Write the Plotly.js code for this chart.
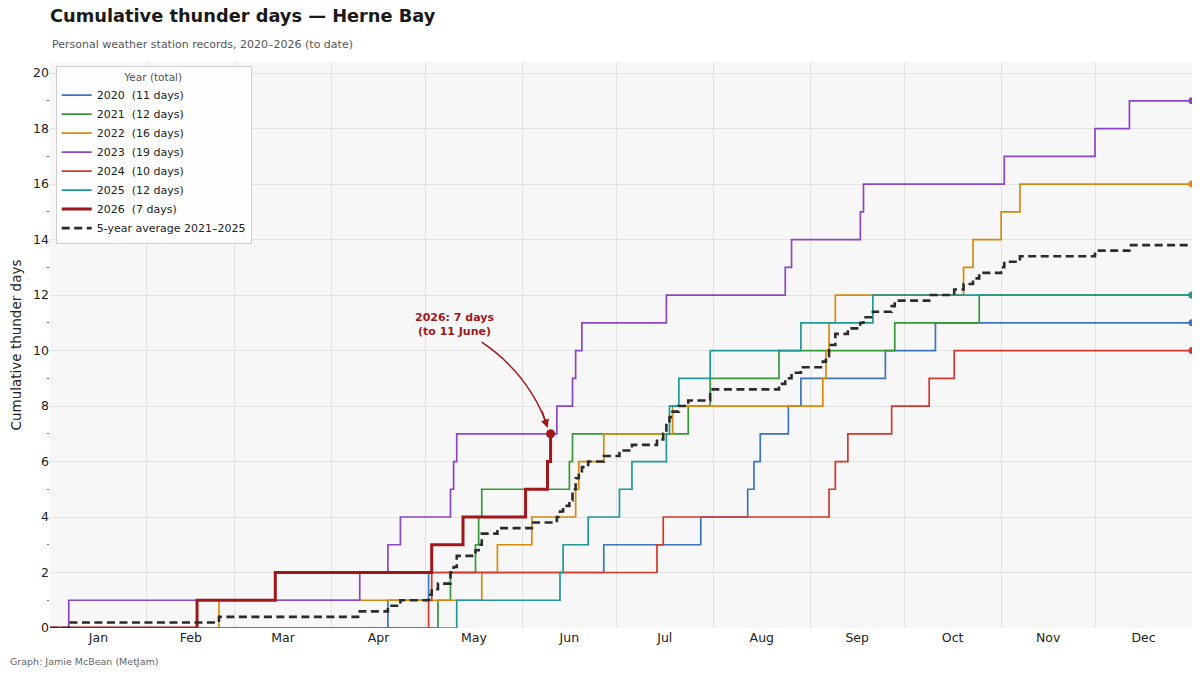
<!DOCTYPE html>
<html>
<head>
<meta charset="utf-8">
<script src="https://cdn.plot.ly/plotly-3.0.1.min.js"></script>
<style>
  html, body { margin: 0; padding: 0; background: #ffffff; }
  #chart { width: 1200px; height: 674px; }
</style>
</head>
<body>
<div id="chart"></div>
<script>
// ---- Data (event dates as MM-DD, cumulative thunder-day counts) ----
const axisYear = '2021';            // common calendar year used for the day-of-year axis
const nextYear = '2022';

const years  = ['2020', '2021', '2022', '2023', '2024', '2025', '2026'];
const totals = [11, 12, 16, 19, 10, 12, 7];

const dates2020  = ['04-19','05-02','06-27','07-28','08-12','08-14','08-16','08-25','08-29','09-25','10-11'];
const counts2020 = [1,2,3,4,5,6,7,8,9,10,11];

const dates2021  = ['05-05','05-09','05-17','05-18','05-19','06-16','06-17','07-24','07-31','08-22','09-28','10-25'];
const counts2021 = [1,2,3,4,5,6,7,8,9,10,11,12];

const dates2022  = ['02-24','05-19','05-24','06-04','06-18','06-19','06-27','07-19','09-05','09-06','09-07','09-09','10-20','10-23','11-01','11-07'];
const counts2022 = [1,2,3,4,5,6,7,8,9,10,11,12,13,14,15,16];

const dates2023  = ['01-07','04-10','04-19','04-23','05-09','05-10','05-11','06-12','06-17','06-18','06-20','07-17','08-24','08-26','09-17','09-18','11-02','12-01','12-12'];
const counts2023 = [1,2,3,4,5,6,7,8,9,10,11,12,13,14,15,16,17,18,19];

const dates2024  = ['05-02','05-03','07-14','07-16','09-07','09-09','09-13','09-27','10-09','10-17'];
const counts2024 = [1,2,3,4,5,6,7,8,9,10];

const dates2025  = ['05-11','06-13','06-14','06-22','07-02','07-06','07-17','07-18','07-21','07-31','08-29','09-21'];
const counts2025 = [1,2,3,4,5,6,7,8,9,10,11,12];

const dates2026  = ['02-17','03-14','05-03','05-13','06-02','06-09','06-10'];
const counts2026 = [1,2,3,4,5,6,7];

// 5-year average 2021–2025
const avgDates  = ['01-07','02-24','04-10','04-19','04-23','05-02','05-03','05-05','05-09','05-10','05-11','05-17','05-18','05-19','05-24','06-04','06-12','06-13','06-14','06-16','06-17','06-18','06-19','06-20','06-22','06-27','07-02','07-06','07-14','07-16','07-17','07-18','07-19','07-21','07-24','07-31','08-22','08-24','08-26','08-29','09-05','09-06','09-07','09-09','09-13','09-17','09-18','09-21','09-27','09-28','10-09','10-17','10-20','10-23','10-25','11-01','11-02','11-07','12-01','12-12'];
const avgValues = [0.2,0.4,0.6,0.8,1.0,1.2,1.4,1.6,2.0,2.2,2.6,2.8,3.0,3.4,3.6,3.8,4.0,4.2,4.4,4.6,5.0,5.4,5.6,5.8,6.0,6.2,6.4,6.6,6.8,7.0,7.4,7.6,7.8,8.0,8.2,8.6,8.8,9.0,9.2,9.4,9.6,9.8,10.2,10.6,10.8,11.0,11.2,11.4,11.6,11.8,12.0,12.2,12.4,12.6,12.8,13.0,13.2,13.4,13.6,13.8];

const seriesDates  = [dates2020, dates2021, dates2022, dates2023, dates2024, dates2025, dates2026];
const seriesCounts = [counts2020, counts2021, counts2022, counts2023, counts2024, counts2025, counts2026];

// ---- Styles ----
const colors = ['#3a76c0', '#36993a', '#d98a0c', '#8b47c6', '#d4382c', '#1f9a97', '#a0171b'];
const widths = [1.7, 1.7, 1.7, 1.7, 1.7, 1.7, 3.0];
const avgColor = '#2b2b2b';
const FONT = 'DejaVu Sans, Verdana, sans-serif';

const toDate = md => axisYear + '-' + md;
const yearStart = axisYear + '-01-01';
const yearEnd = nextYear + '-01-01';

const traces = [];
years.forEach((yr, i) => {
  const isCurrent = (yr === '2026');
  const xs = [yearStart].concat(seriesDates[i].map(toDate));
  const ys = [0].concat(seriesCounts[i]);
  if (!isCurrent) { xs.push(yearEnd); ys.push(totals[i]); }
  traces.push({
    type: 'scatter', mode: 'lines', x: xs, y: ys,
    line: { shape: 'hv', color: colors[i], width: widths[i] },
    name: yr + '\u00a0 (' + totals[i] + ' days)',
    hoverinfo: 'skip'
  });
});

// average line
traces.push({
  type: 'scatter', mode: 'lines',
  x: [yearStart].concat(avgDates.map(toDate), [yearEnd]),
  y: [0].concat(avgValues, [avgValues[avgValues.length - 1]]),
  line: { shape: 'hv', color: avgColor, width: 2.6, dash: '8px,4.5px' },
  name: '5-year average 2021–2025',
  hoverinfo: 'skip'
});

// end-of-year markers for complete years
years.slice(0, 6).forEach((yr, i) => {
  traces.push({
    type: 'scatter', mode: 'markers',
    x: [yearEnd], y: [totals[i]],
    marker: { color: colors[i], size: 7 },
    showlegend: false, hoverinfo: 'skip'
  });
});

// current-year marker
const last2026 = dates2026[dates2026.length - 1];
traces.push({
  type: 'scatter', mode: 'markers',
  x: [toDate(last2026)], y: [counts2026[counts2026.length - 1]],
  marker: { color: colors[6], size: 9 },
  showlegend: false, hoverinfo: 'skip', cliponaxis: false
});

const layout = {
  width: 1200, height: 674,
  margin: { l: 50, r: 8, t: 62, b: 46 },
  paper_bgcolor: '#ffffff',
  plot_bgcolor: '#f7f7f7',
  font: { family: FONT, color: '#222222', size: 12 },
  showlegend: true,
  title: {
    text: '<b>Cumulative thunder days — Herne Bay</b>',
    font: { family: FONT, size: 17.8, color: '#1a1a1a' },
    xref: 'container', x: 50 / 1200, xanchor: 'left',
    yref: 'container', y: 1 - 16 / 674, yanchor: 'middle'
  },
  xaxis: {
    type: 'date',
    range: [yearStart, yearEnd],
    tick0: yearStart, dtick: 'M1',
    tickformat: '%b', ticklabelmode: 'period',
    showgrid: true, gridcolor: '#e3e3e3', gridwidth: 1,
    zeroline: false, showline: false, ticks: '',
    tickfont: { family: FONT, size: 12.5, color: '#222' },
    fixedrange: true
  },
  yaxis: {
    range: [0, 20.4],
    tick0: 0, dtick: 2,
    showgrid: true, gridcolor: '#e3e3e3', gridwidth: 1,
    zeroline: false, showline: false, ticks: '',
    tickfont: { family: FONT, size: 12.5, color: '#222' },
    minor: { dtick: 1, ticks: 'outside', ticklen: 2, tickcolor: '#777', tickwidth: 1, showgrid: false },
    title: { text: 'Cumulative thunder days', font: { family: FONT, size: 13.5, color: '#222' }, standoff: 8 },
    fixedrange: true
  },
  legend: {
    x: 0.005, y: 0.993, xanchor: 'left', yanchor: 'top',
    bgcolor: 'rgba(255,255,255,0.85)', bordercolor: '#d0d0d0', borderwidth: 1,
    font: { family: FONT, size: 11, color: '#222' },
    title: { text: 'Year (total)', side: 'top center', font: { family: FONT, size: 10.5, color: '#555' } },
    itemwidth: 30
  },
  shapes: [
    {
      type: 'path', xref: 'x', yref: 'y',
      path: 'M ' + axisYear + '-05-19_00:00,10.3 Q ' + axisYear + '-06-03_07:00,9.13 ' + axisYear + '-06-09_01:00,7.25',
      line: { color: colors[6], width: 1.5 }
    }
  ],
  annotations: [
    {
      xref: 'paper', yref: 'paper', x: 0, y: 1 + 18 / 566, xanchor: 'left', yanchor: 'middle',
      text: 'Personal weather station records, 2020–2026 (to date)', showarrow: false,
      font: { family: FONT, size: 11, color: '#555' }
    },
    {
      xref: 'paper', yref: 'paper', x: -42 / 1142, y: -33 / 566, xanchor: 'left', yanchor: 'middle',
      text: 'Graph: Jamie McBean (MetJam)', showarrow: false,
      font: { family: FONT, size: 9.5, color: '#666' }
    },
    {
      xref: 'x', yref: 'y', x: axisYear + '-05-10 08:00', y: 10.95,
      text: '<b>2026: 7 days<br>(to 11 June)</b>', showarrow: false,
      font: { family: FONT, size: 11, color: colors[6] }, align: 'center'
    },
    {
      xref: 'x', yref: 'y', x: axisYear + '-06-09 01:00', y: 7.22,
      text: '', showarrow: true, ax: -6, ay: -18,
      arrowhead: 2, arrowsize: 1.1, arrowwidth: 1.5, arrowcolor: colors[6]
    }
  ]
};

Plotly.newPlot('chart', traces, layout, { displayModeBar: false, staticPlot: true });
</script>
</body>
</html>
